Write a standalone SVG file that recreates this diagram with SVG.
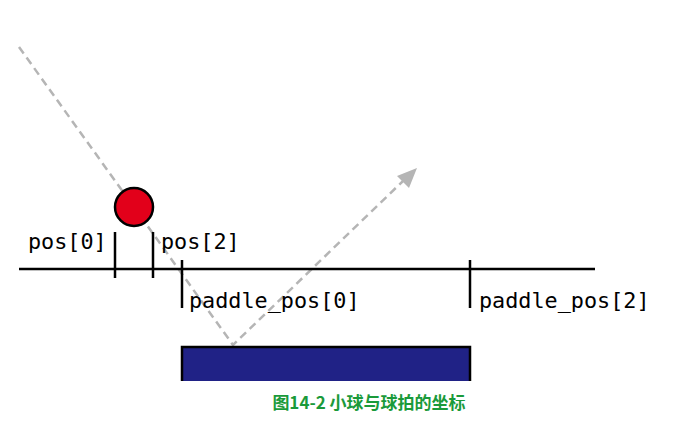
<svg xmlns="http://www.w3.org/2000/svg" width="675" height="430" viewBox="0 0 675 430">
<defs>
<style>
.dash{fill:none;stroke:#b5b5b5;stroke-width:2.5;stroke-dasharray:8 5}
.ax{stroke:#000;stroke-width:2.5;fill:none}
.lbl{font-family:"DejaVu Sans Mono","Liberation Mono",monospace;font-size:21.8px;fill:#000}
.cap{font-family:"Noto Sans CJK SC","Noto Sans",sans-serif;font-size:17px;font-weight:bold;fill:#1a9a3a}
</style>
</defs>
<g id="connectors">
<path class="dash" d="M19,47 L233,345 L403,181"/>
<path d="M417,168 L397,176 L409,188 z" fill="#b5b5b5"/>
</g>
<g id="axis">
<line class="ax" x1="19" y1="269" x2="595" y2="269"/>
<line class="ax" x1="115" y1="232" x2="115" y2="278"/>
<line class="ax" x1="153" y1="232" x2="153" y2="278"/>
<line class="ax" x1="182" y1="260" x2="182" y2="308"/>
<line class="ax" x1="470" y1="260" x2="470" y2="308"/>
</g>
<g id="ball">
<circle cx="134" cy="207" r="19" fill="#e2001a" stroke="#000" stroke-width="2.5"/>
</g>
<g id="labels">
<text class="lbl" x="28" y="249">pos[0]</text>
<text class="lbl" x="161" y="249">pos[2]</text>
<text class="lbl" x="189" y="308">paddle_pos[0]</text>
<text class="lbl" x="479" y="308">paddle_pos[2]</text>
</g>
<g id="paddle">
<rect x="182" y="347" width="288" height="34" fill="#202286"/>
<path d="M182,381 L182,347 L470,347 L470,381" fill="none" stroke="#000" stroke-width="2.5"/>
</g>
<g id="caption">
<text class="cap" x="369" y="409" text-anchor="middle">图14-2 小球与球拍的坐标</text>
</g>
</svg>
